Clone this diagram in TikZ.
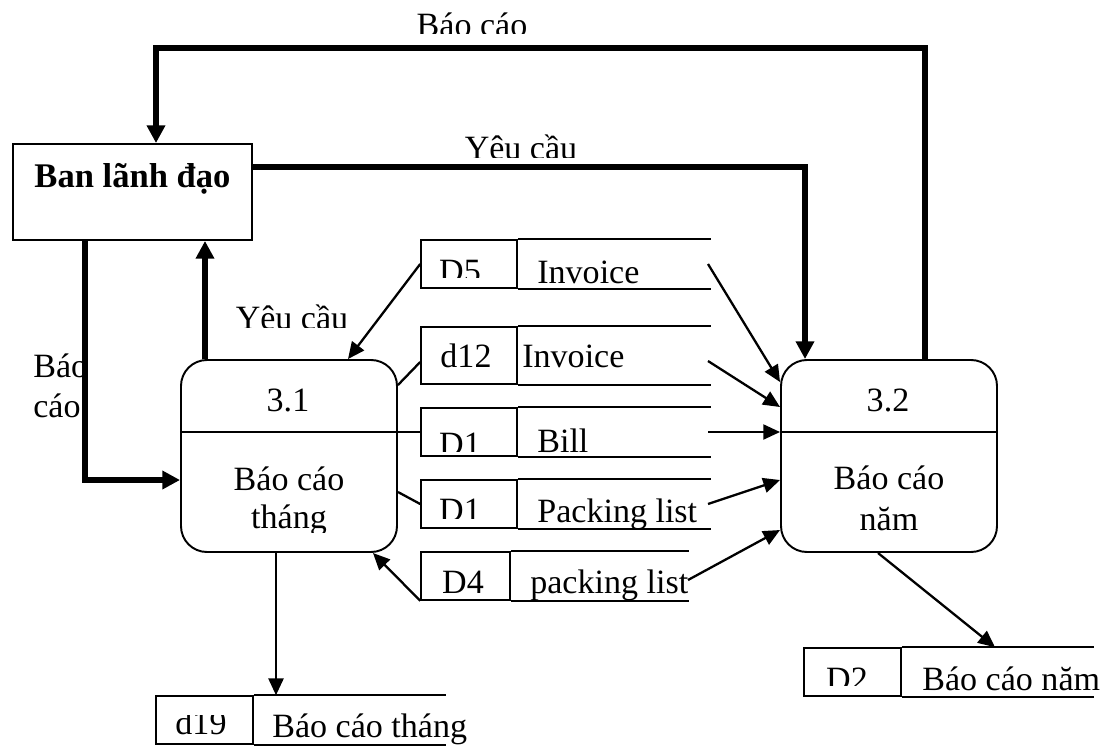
\documentclass[tikz,border=0pt]{standalone}
\usepackage{fontspec}
\setmainfont{Liberation Serif}
\usetikzlibrary{arrows.meta}
\begin{document}
\begin{tikzpicture}[x=0.5669pt,y=-0.5669pt,
  every node/.style={font=\fontsize{19.3}{23}\selectfont},
  lbl/.style={inner sep=0pt, anchor=base},
  lblw/.style={inner sep=0pt, anchor=base west},
  proc/.style={draw, line width=1.1pt, rounded corners=14.7pt,
    minimum width=122.45pt, minimum height=108.85pt, inner sep=0pt},
  ext/.style={draw, line width=1.1pt, minimum width=135.5pt,
    minimum height=54.4pt, inner sep=0pt},
  idcell/.style={draw, line width=0.9pt, minimum height=27.2pt, inner sep=0pt},
  storeline/.style={line width=0.9pt},
  divline/.style={line width=0.9pt},
  thk/.style={line width=3.4pt, -{Triangle[length=10pt,width=10pt]}},
  thn/.style={line width=1.3pt, -{Triangle[length=9.5pt,width=8.5pt]}},
  lnk/.style={line width=1.3pt},
]
\useasboundingbox (0,0) rectangle (1118,747);

% ---------- external entity ----------
\node[ext] (ban) at (132.5,192) {};
\node[lbl, font=\fontsize{19.6}{23}\selectfont\bfseries] (bantx) at (132.5,187) {Ban lãnh đạo};

% ---------- processes ----------
\node[proc] (p31) at (289,456) {};
\node[proc] (p32) at (889,456) {};
\coordinate (dv) at (0,432);
\draw[divline] (p31.west |- dv) -- (p31.east |- dv);
\draw[divline] (p32.west |- dv) -- (p32.east |- dv);

\node[lbl] (p31id) at (288,411) {3.1};
\node[lbl] (p31a) at (289,490) {Báo cáo};
\begin{scope}
  \clip (200,495) rectangle (380,532);
  \node[lbl] (p31b) at (289,528) {tháng};
\end{scope}

\node[lbl] (p32id) at (888,411) {3.2};
\node[lbl] (p32a) at (889,489) {Báo cáo};
\node[lbl] (p32b) at (889,530) {năm};

% ---------- data stores ----------
\node[idcell, minimum width=54.42pt] (s5) at (469,264) {};
\draw[storeline] (s5.north east) -- ++(193,0);
\draw[storeline] (s5.south east) -- ++(193,0);
\begin{scope}
  \clip (425,244) rectangle (515,277);
  \node[lbl] (s5id) at (460,282) {D5};
\end{scope}
\node[lblw] (s5tx) at (537,283) {Invoice};

\node[idcell, minimum width=54.42pt, minimum height=32.31pt] (s12) at (469,355.5) {};
\draw[storeline] (s12.north east) -- ++(193,0);
\draw[storeline] (s12.south east) -- ++(193,0);
\node[lbl] (s12id) at (466,367) {d12};
\node[lblw] (s12tx) at (522,367) {Invoice};

\node[idcell, minimum width=54.42pt] (s1) at (469,432) {};
\draw[storeline] (s1.north east) -- ++(193,0);
\draw[storeline] (s1.south east) -- ++(193,0);
\begin{scope}
  \clip (425,412) rectangle (515,451);
  \node[lbl] (s1id) at (460,455) {D1};
\end{scope}
\node[lblw] (s1tx) at (537,452) {Bill};

\node[idcell, minimum width=54.42pt] (s1p) at (469,504) {};
\draw[storeline] (s1p.north east) -- ++(193,0);
\draw[storeline] (s1p.south east) -- ++(193,0);
\begin{scope}
  \clip (425,484) rectangle (515,518);
  \node[lbl] (s1pid) at (460,521) {D1};
\end{scope}
\node[lblw] (s1ptx) at (537,522) {Packing list};

\node[idcell, minimum width=50.45pt] (s4) at (465.5,576) {};
\draw[storeline] (s4.north east) -- ++(178,0);
\draw[storeline] (s4.south east) -- ++(178,0);
\begin{scope}
  \clip (425,556) rectangle (508,592);
  \node[lbl] (s4id) at (463,593) {D4};
\end{scope}
\node[lblw] (s4tx) at (530,593) {packing list};

\node[idcell, minimum width=54.99pt] (s19) at (204.5,720) {};
\draw[storeline] (s19.north east) -- ++(192,0);
\draw[storeline] (s19.south east) -- ++(192,0);
\begin{scope}
  \clip (160,715) rectangle (250,742);
  \node[lbl] (s19id) at (201,734) {d19};
\end{scope}
\node[lblw] (s19tx) at (272,737) {Báo cáo tháng};

\node[idcell, minimum width=54.99pt] (s2) at (852.5,672) {};
\draw[storeline] (s2.north east) -- ++(192,0);
\draw[storeline] (s2.south east) -- ++(192,0);
\begin{scope}
  \clip (808,652) rectangle (898,685);
  \node[lbl] (s2id) at (847,690) {D2};
\end{scope}
\node[lblw] (s2tx) at (922,690) {Báo cáo năm};

% ---------- thick flows with the management ----------
\coordinate (tr) at (925,48);
\coordinate (tl) at (156,48);
\draw[thk] (p32.north -| tr) -- (tr) -- (tl) -- (ban.north -| tl);
\begin{scope}
  \clip (400,0) rectangle (560,33);
  \node[lbl] (lbtop) at (472,36) {Báo cáo};
\end{scope}

\coordinate (yr) at (805,167);
\draw[thk] (ban.east |- yr) -- (yr) -- (p32.north -| yr);
\begin{scope}
  \clip (440,100) rectangle (600,157);
  \node[lbl] (lytop) at (521,159) {Yêu cầu};
\end{scope}

\coordinate (bl) at (85,480);
\draw[thk] (ban.south -| bl) -- (bl) -- (p31.west |- bl);
\begin{scope}
  \clip (20,340) rectangle (82,430);
  \node[lblw] (lbl1) at (33,377) {Báo};
  \node[lblw] (lbl2) at (33,417) {cáo};
\end{scope}

\coordinate (yu) at (205,300);
\draw[thk] (p31.north -| yu) -- (ban.south -| yu);
\begin{scope}
  \clip (220,280) rectangle (360,327);
  \node[lbl] (lyleft) at (292,329) {Yêu cầu};
\end{scope}

% ---------- thin flows around process 3.1 ----------
\coordinate (a5) at (348,360);
\draw[thn] (s5.west) -- (p31.north -| a5);
\coordinate (c12) at (397,385);
\coordinate (e12) at (421,362);
\draw[lnk] (p31.east |- c12) -- (s12.west |- e12);
\draw[lnk] (p31.east |- s1.west) -- (s1.west);
\coordinate (c1p) at (397,492);
\draw[lnk] (p31.east |- c1p) -- (s1p.west);
\coordinate (a4) at (373,553);
\draw[thn] (s4.south west) -- (a4);
\coordinate (c19) at (276,0);
\draw[thn] (p31.south -| c19) -- (s19.north -| c19);

% ---------- thin flows into and out of process 3.2 ----------
\coordinate (o1) at (708,264);
\coordinate (o2) at (708,361);
\coordinate (o3) at (708,432);
\coordinate (o4) at (708,504);
\coordinate (o5) at (688,580);
\coordinate (q1) at (0,382);
\coordinate (q2) at (0,407);
\coordinate (q3) at (0,432);
\coordinate (q4) at (0,480);
\coordinate (q5) at (0,530);
\draw[thn] (o1) -- (p32.west |- q1);
\draw[thn] (o2) -- (p32.west |- q2);
\draw[thn] (o3) -- (p32.west |- q3);
\draw[thn] (o4) -- (p32.west |- q4);
\draw[thn] (o5) -- (p32.west |- q5);

\coordinate (c2a) at (878,0);
\coordinate (c2b) at (995,0);
\draw[thn] (p32.south -| c2a) -- (s2.north -| c2b);
\end{tikzpicture}
\end{document}
